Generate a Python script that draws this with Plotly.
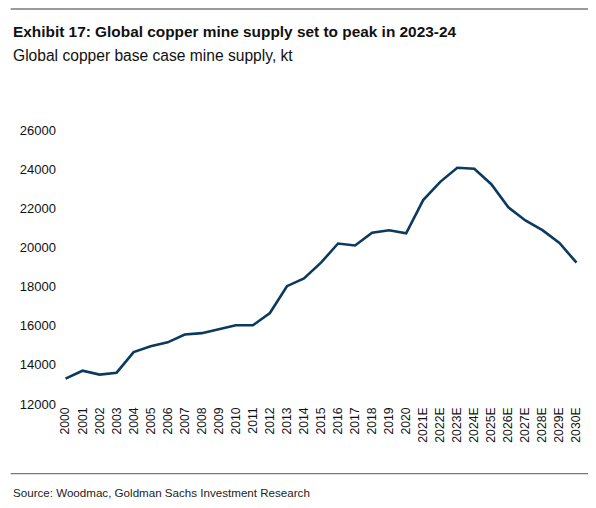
import plotly.graph_objects as go

years = ["2000","2001","2002","2003","2004","2005","2006","2007","2008","2009",
         "2010","2011","2012","2013","2014","2015","2016","2017","2018","2019",
         "2020","2021E","2022E","2023E","2024E","2025E","2026E","2027E",
         "2028E","2029E","2030E"]
supply_kt = [13300,13700,13500,13600,14650,14950,15150,15550,15620,15820,
             16020,16020,16650,18020,18420,19220,20200,20100,20750,20880,
             20720,22420,23350,24070,24020,23230,22050,21380,20880,20230,19220]
y_ticks = [12000,14000,16000,18000,20000,22000,24000,26000]

# page body has an 8px margin, so the figure is 588x500 inside the 596x508 window
W, H = 588, 500
L, R, T, B = 46.5, 11.4, 122, 103.7
pw, ph = W - L - R, H - T - B

def px(x):
    return (x - L) / pw

def py(y):
    return (H - B - y) / ph

FONT = "Liberation Sans, Arial, sans-serif"

fig = go.Figure()
fig.add_trace(go.Scatter(
    x=years, y=supply_kt, mode="lines",
    line=dict(color="#0c3a5f", width=2.6),
    hoverinfo="x+y", showlegend=False,
))

fig.update_layout(
    width=W, height=H,
    margin=dict(l=L, r=R, t=T, b=B),
    paper_bgcolor="white", plot_bgcolor="white",
    font=dict(family=FONT, size=13, color="#111"),
    xaxis=dict(
        type="category", range=[-0.5, 30.5],
        tickangle=-90, showgrid=False, showline=False, zeroline=False,
        ticks="", tickfont=dict(size=12.2, color="#111"),
    ),
    yaxis=dict(
        range=[12000, 26000], tickvals=y_ticks, ticktext=[str(v) for v in y_ticks],
        showgrid=False, showline=False, zeroline=False, ticks="",
        tickfont=dict(size=13, color="#111"),
    ),
    shapes=[
        dict(type="line", xref="paper", yref="paper",
             x0=px(0), x1=px(583), y0=py(0.8), y1=py(0.8),
             line=dict(color="#7a7a7a", width=1.5)),
        dict(type="line", xref="paper", yref="paper",
             x0=px(0), x1=px(583), y0=py(466), y1=py(466),
             line=dict(color="#7a7a7a", width=1.2)),
    ],
    annotations=[
        dict(text="<b>Exhibit 17: Global copper mine supply set to peak in 2023-24</b>",
             xref="paper", yref="paper", x=px(0), y=py(23.5),
             xanchor="left", yanchor="middle", showarrow=False,
             font=dict(family=FONT, size=15.4, color="#111")),
        dict(text="Global copper base case mine supply, kt",
             xref="paper", yref="paper", x=px(0), y=py(47.5),
             xanchor="left", yanchor="middle", showarrow=False,
             font=dict(family=FONT, size=15.6, color="#111")),
        dict(text="Source: Woodmac, Goldman Sachs Investment Research",
             xref="paper", yref="paper", x=px(0), y=py(485),
             xanchor="left", yanchor="middle", showarrow=False,
             font=dict(family=FONT, size=11.6, color="#222")),
    ],
)

fig.write_html("out.html")
